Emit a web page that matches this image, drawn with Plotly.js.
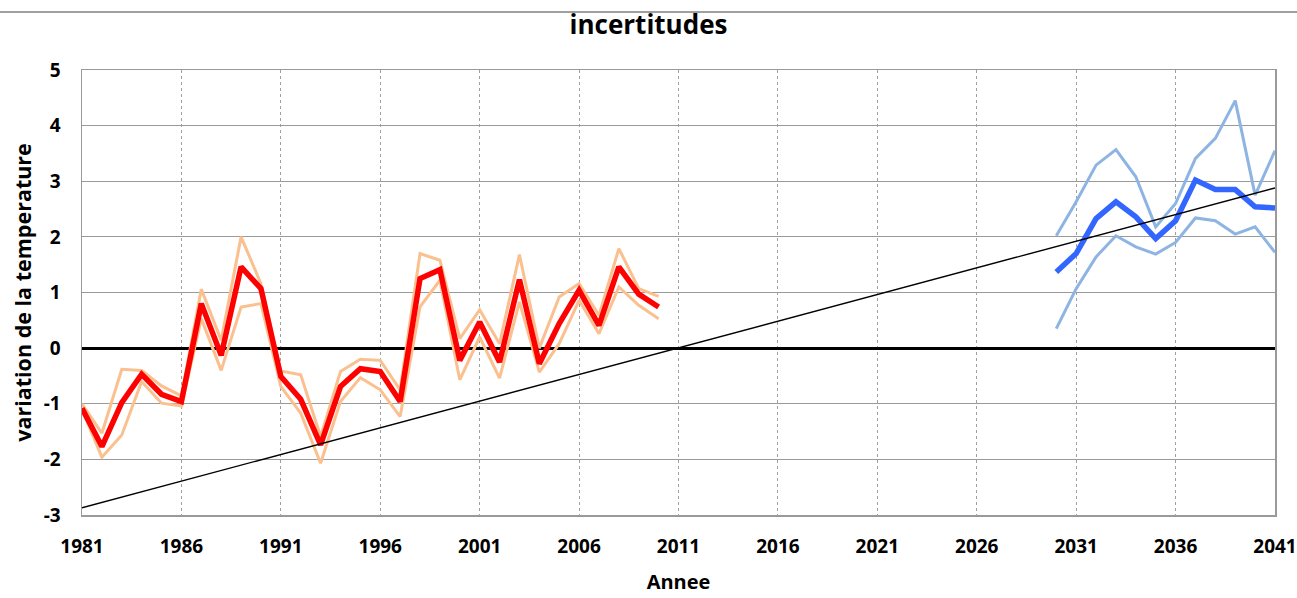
<!DOCTYPE html>
<html>
<head>
<meta charset="utf-8">
<script src="https://cdn.plot.ly/plotly-3.0.1.min.js"></script>
<style>
  html, body { margin: 0; padding: 0; background: #fff; }
  #sep { position: absolute; left: 0; top: 11px; width: 1297px; height: 0; border-top: 2px solid #a0a0a0; z-index: 5; }
  #chart { width: 1297px; height: 598px; }
</style>
</head>
<body>
<div id="sep"></div>
<div id="chart"></div>
<script>
// Observed period
const obsYears = [1981,1982,1983,1984,1985,1986,1987,1988,1989,1990,1991,1992,1993,1994,1995,1996,1997,1998,1999,2000,2001,2002,2003,2004,2005,2006,2007,2008,2009,2010];
const obsMean  = [-1.08,-1.77,-0.98,-0.47,-0.83,-0.96,0.80,-0.13,1.46,1.07,-0.51,-0.92,-1.74,-0.69,-0.37,-0.42,-0.96,1.25,1.41,-0.22,0.47,-0.25,1.23,-0.28,0.44,1.04,0.41,1.46,0.97,0.74];
const obsUpper = [-1.00,-1.53,-0.38,-0.40,-0.68,-0.86,1.06,0.14,2.00,1.16,-0.41,-0.48,-1.59,-0.42,-0.20,-0.22,-0.75,1.70,1.58,0.17,0.69,0.08,1.68,0.00,0.92,1.16,0.59,1.79,1.07,0.93];
const obsLower = [-1.10,-1.96,-1.56,-0.60,-0.99,-1.04,0.53,-0.40,0.74,0.80,-0.69,-1.17,-2.07,-0.96,-0.53,-0.75,-1.23,0.74,1.22,-0.57,0.20,-0.54,0.83,-0.43,0.08,0.86,0.26,1.10,0.77,0.53];

// Projection period
const projYears = [2030,2031,2032,2033,2034,2035,2036,2037,2038,2039,2040,2041];
const projMean  = [1.37,1.70,2.33,2.63,2.36,1.97,2.29,3.02,2.85,2.85,2.54,2.52];
const projUpper = [2.02,2.63,3.29,3.57,3.08,2.18,2.60,3.41,3.77,4.45,2.75,3.55];
const projLower = [0.35,1.07,1.64,2.02,1.82,1.69,1.90,2.34,2.29,2.05,2.18,1.72];

// Linear trend
const trendYears = [1981, 2041];
const trendValues = [-2.87, 2.88];

const xTickVals = [1981,1986,1991,1996,2001,2006,2011,2016,2021,2026,2031,2036,2041];
const yTickVals = [-3,-2,-1,0,1,2,3,4,5];

const FONT = '"Open Sans", "DejaVu Sans", sans-serif';
const ORANGE = 'rgb(250,192,143)';
const LIGHTBLUE = 'rgb(141,180,226)';

const traces = [
  {x: obsYears, y: obsUpper, mode: 'lines', line: {color: ORANGE, width: 3}},
  {x: obsYears, y: obsLower, mode: 'lines', line: {color: ORANGE, width: 3}},
  {x: obsYears, y: obsMean, mode: 'lines', line: {color: 'rgb(255,0,0)', width: 5.5}},
  {x: projYears, y: projUpper, mode: 'lines', line: {color: LIGHTBLUE, width: 3}},
  {x: projYears, y: projLower, mode: 'lines', line: {color: LIGHTBLUE, width: 3}},
  {x: projYears, y: projMean, mode: 'lines', line: {color: 'rgb(51,102,255)', width: 5.5}},
  {x: trendYears, y: trendValues, mode: 'lines', line: {color: '#000', width: 1.4}}
];

const layout = {
  width: 1297, height: 598,
  margin: {l: 82, r: 22, t: 70, b: 83},
  paper_bgcolor: '#fff', plot_bgcolor: '#fff',
  showlegend: false,
  font: {family: FONT, color: '#000'},
  title: {text: '<b>incertitudes</b>', font: {family: FONT, size: 26, color: '#000'},
          x: 0.5, xanchor: 'center', y: 1 - 25/598, yanchor: 'middle', yref: 'container'},
  xaxis: {
    range: [1981, 2041], tickvals: xTickVals, ticktext: xTickVals.map(String),
    showgrid: true, gridcolor: '#a0a0a0', griddash: '3px,3px', gridwidth: 1,
    showline: true, linecolor: '#9a9a9a', linewidth: 1.5, mirror: true,
    zeroline: false, ticks: '', ticklabelstandoff: 14,
    tickfont: {family: FONT, size: 19, color: '#000', weight: 'bold'},
    title: {text: '<b>Annee</b>', font: {family: FONT, size: 20, color: '#000'}, standoff: 16}
  },
  yaxis: {
    range: [-3, 5], tickvals: yTickVals, ticktext: yTickVals.map(String),
    showgrid: true, gridcolor: '#9a9a9a', gridwidth: 1,
    showline: true, linecolor: '#9a9a9a', linewidth: 1.5, mirror: true,
    zeroline: true, zerolinecolor: '#000', zerolinewidth: 2.8,
    ticks: '', ticklabelstandoff: 16,
    tickfont: {family: FONT, size: 19, color: '#000', weight: 'bold'},
    title: {text: '<b>variation de la temperature</b>', font: {family: FONT, size: 21.5, color: '#000'}, standoff: 6}
  }
};

Plotly.newPlot('chart', traces, layout, {displayModeBar: false, staticPlot: true});
</script>
</body>
</html>
